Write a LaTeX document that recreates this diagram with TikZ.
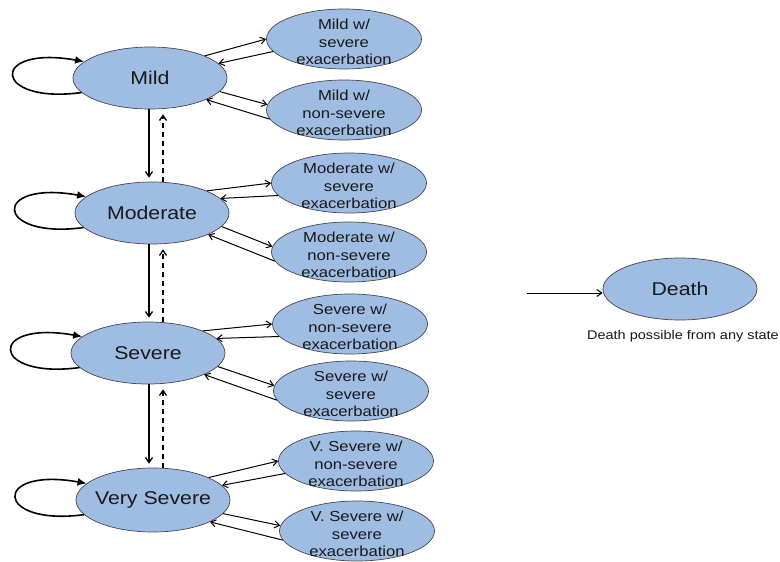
\documentclass[tikz,border=0pt]{standalone}
\usepackage{fontspec}
\setmainfont{Liberation Sans}[FakeStretch=1.15]
\usetikzlibrary{shapes.geometric,arrows.meta}
\definecolor{stfill}{RGB}{159,189,227}
\definecolor{stdraw}{RGB}{70,70,80}
\definecolor{txt}{RGB}{25,25,25}
\begin{document}
\begin{tikzpicture}[x=1pt,y=-1pt,
  mainst/.style={ellipse, draw=stdraw, fill=stfill, line width=0.7pt, minimum width=154pt, minimum height=62pt, inner sep=0pt},
  subst/.style={ellipse, draw=stdraw, fill=stfill, line width=0.7pt, minimum width=155pt, minimum height=60pt, inner sep=0pt},
  maintxt/.style={text=txt, inner sep=0pt, font=\fontsize{18.5}{22}\selectfont},
  subtxt/.style={text=txt, inner sep=0pt, align=center, yshift=-3pt, font=\fontsize{14.5}{17.5}\selectfont},
  notetxt/.style={text=txt, inner sep=0pt, font=\fontsize{12.6}{15}\selectfont},
  arr/.style={-{Straight Barb[length=5pt,width=7pt]}, line width=1pt},
  vert/.style={arr, line width=1.3pt},
  selfloop/.style={-{Latex[length=9pt,width=8pt]}, line width=1.6pt},
  back/.style={vert, dash pattern=on 5pt off 4pt}]
\useasboundingbox (0,0) rectangle (780,562);

% main states
\node[mainst] (mild) at (150,78) {};
\node[maintxt] (mildt) at (mild.center) {Mild};
\node[mainst] (mod) at (152,213) {};
\node[maintxt] (modt) at (mod.center) {Moderate};
\node[mainst] (sev) at (148,353) {};
\node[maintxt] (sevt) at (sev.center) {Severe};
\node[mainst, minimum height=64pt] (vs) at (153,500) {};
\node[maintxt] (vst) at (vs.center) {Very Severe};

% exacerbation states
\node[subst] (mws) at (344,39) {};
\node[subtxt] (mwst) at (mws.center) {Mild w/\\severe\\exacerbation};
\node[subst] (mwn) at (344,110) {};
\node[subtxt] (mwnt) at (mwn.center) {Mild w/\\non-severe\\exacerbation};
\node[subst] (mos) at (349,183) {};
\node[subtxt] (most) at (mos.center) {Moderate w/\\severe\\exacerbation};
\node[subst] (mon) at (349,252) {};
\node[subtxt] (mont) at (mon.center) {Moderate w/\\non-severe\\exacerbation};
\node[subst] (swn) at (350,324) {};
\node[subtxt] (swnt) at (swn.center) {Severe w/\\non-severe\\exacerbation};
\node[subst] (sws) at (351,391) {};
\node[subtxt] (swst) at (sws.center) {Severe w/\\severe\\exacerbation};
\node[subst] (vwn) at (356,461) {};
\node[subtxt] (vwnt) at (vwn.center) {V. Severe w/\\non-severe\\exacerbation};
\node[subst] (vws) at (357,531) {};
\node[subtxt] (vwst) at (vws.center) {V. Severe w/\\severe\\exacerbation};

% death
\node[mainst] (death) at (680,289) {};
\node[maintxt] (deatht) at (death.center) {Death};
\node[notetxt, anchor=east] (dnote) at (779,336) {Death possible from any state};
\coordinate (dsrc) at (527,293);
\draw[arr] (dsrc) -- (death.west |- dsrc);

% self loops
\foreach \m in {mild,mod,sev,vs}{
  \draw[selfloop] (\m.192) .. controls +(-90,12) and +(-95,-17) .. (\m.166);
}

% side arrows
\foreach \m/\a/\b in {mild/mws/mwn, mod/mos/mon, sev/swn/sws, vs/vwn/vws}{
  \draw[arr] (\m.22) -- (\a.180);
  \draw[arr] (\a.190) -- (\m.12);
  \draw[arr] (\m.-11) -- (\b.176);
  \draw[arr] (\b.187) -- (\m.-21);
}

% vertical transitions
\coordinate (xs) at (149,0);
\coordinate (xd) at (163,0);
\foreach \u/\l in {mild/mod, mod/sev, sev/vs}{
  \draw[vert, shorten >=4pt] (xs |- \u.south) -- (xs |- \l.north);
  \draw[back, shorten >=5pt] (xd |- \l.north) -- (xd |- \u.south);
}
\end{tikzpicture}
\end{document}
